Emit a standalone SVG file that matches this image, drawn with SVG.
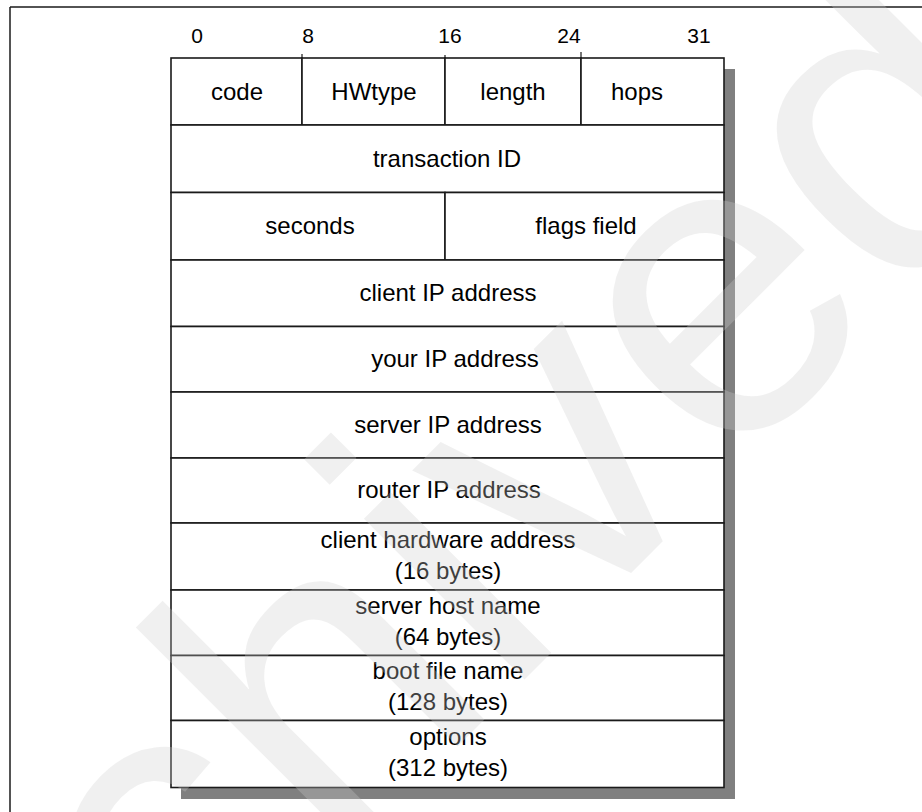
<svg xmlns="http://www.w3.org/2000/svg" width="922" height="812" viewBox="0 0 922 812">
<style>
.cell{fill:#fff;stroke:#1a1a1a;stroke-width:1.6}
.t{font-family:"Liberation Sans",Arial,sans-serif;font-size:24px;fill:#000;text-anchor:middle}
.n{font-family:"Liberation Sans",Arial,sans-serif;font-size:21px;fill:#000;text-anchor:middle}
.wm{font-family:"Liberation Sans",Arial,sans-serif;font-size:430px;fill:#cccccc;fill-opacity:0.3}
</style>
<rect x="0" y="0" width="922" height="812" fill="#fff"/>
<g id="frame" stroke="#1a1a1a" stroke-width="1.5" fill="none">
<line x1="10" y1="7" x2="922" y2="7"/>
<line x1="10" y1="7" x2="10" y2="812"/>
</g>
<g id="scale">
<text class="n" x="197" y="43">0</text>
<text class="n" x="308" y="43">8</text>
<text class="n" x="450" y="43">16</text>
<text class="n" x="569" y="43">24</text>
<text class="n" x="699" y="43">31</text>
<g stroke="#1a1a1a" stroke-width="1.2">
<line x1="302" y1="54" x2="302" y2="58"/>
<line x1="445" y1="55" x2="445" y2="58"/>
<line x1="581" y1="52" x2="581" y2="58"/>
</g>
</g>
<rect id="shadow" x="181" y="69" width="554" height="730" fill="#808080"/>
<g id="code"><rect class="cell" x="171" y="58" width="131" height="67"/><text class="t" x="237" y="100">code</text></g>
<g id="hwtype"><rect class="cell" x="302" y="58" width="143" height="67"/><text class="t" x="374" y="100">HWtype</text></g>
<g id="length"><rect class="cell" x="445" y="58" width="136" height="67"/><text class="t" x="513" y="100">length</text></g>
<g id="hops"><rect class="cell" x="581" y="58" width="143" height="67"/><text class="t" x="637" y="100">hops</text></g>
<g id="transaction-id"><rect class="cell" x="171" y="125" width="553" height="67.5"/><text class="t" x="447" y="167">transaction ID</text></g>
<g id="seconds"><rect class="cell" x="171" y="192.5" width="274" height="67.5"/><text class="t" x="310" y="234">seconds</text></g>
<g id="flags-field"><rect class="cell" x="445" y="192.5" width="279" height="67.5"/><text class="t" x="586" y="234">flags field</text></g>
<g id="client-ip"><rect class="cell" x="171" y="260" width="553" height="66.5"/><text class="t" x="448" y="301">client IP address</text></g>
<g id="your-ip"><rect class="cell" x="171" y="326.5" width="553" height="65.5"/><text class="t" x="455" y="367">your IP address</text></g>
<g id="server-ip"><rect class="cell" x="171" y="392" width="553" height="66"/><text class="t" x="448" y="433">server IP address</text></g>
<g id="router-ip"><rect class="cell" x="171" y="458" width="553" height="65"/><text class="t" x="449" y="498">router IP address</text></g>
<g id="client-hw"><rect class="cell" x="171" y="523" width="553" height="67"/><text class="t" x="448" y="548">client hardware address</text><text class="t" x="448" y="579">(16 bytes)</text></g>
<g id="server-host"><rect class="cell" x="171" y="590" width="553" height="65.5"/><text class="t" x="448" y="614">server host name</text><text class="t" x="448" y="645">(64 bytes)</text></g>
<g id="boot-file"><rect class="cell" x="171" y="655.5" width="553" height="65"/><text class="t" x="448" y="679">boot file name</text><text class="t" x="448" y="710">(128 bytes)</text></g>
<g id="options"><rect class="cell" x="171" y="720.5" width="553" height="67"/><text class="t" x="448" y="745">options</text><text class="t" x="448" y="776">(312 bytes)</text></g>
<text class="wm" transform="translate(-121,1325) rotate(-45)">Archived</text>
</svg>
